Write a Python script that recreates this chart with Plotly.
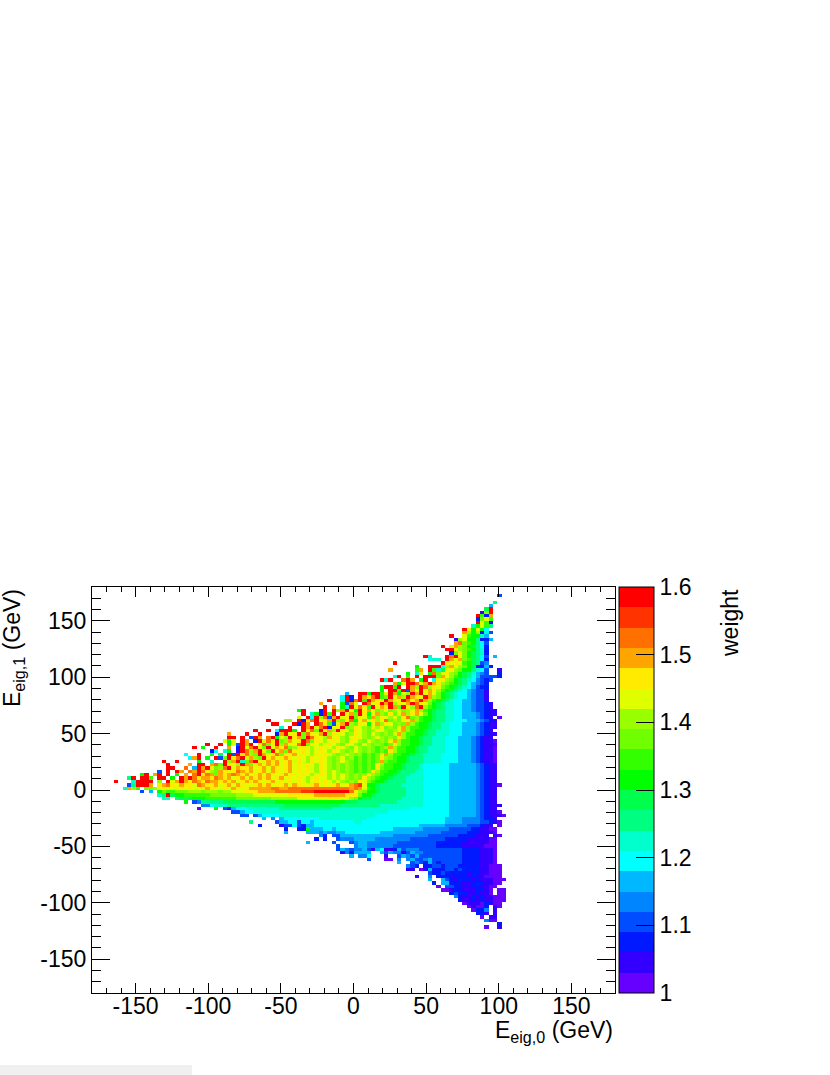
import plotly.graph_objects as go

# ROOT rainbow palette, one colour per contour level (bottom to top of the scale)
LEVEL_COLORS = [
    "#6600FF", "#3300FF", "#0019FF", "#004CFF", "#0085FF",
    "#00B8FF", "#00FFFF", "#00FFCC", "#00FF80", "#00FF4C",
    "#00FF00", "#33FF00", "#70FF00", "#99FF00", "#DFFF00",
    "#FFEB00", "#FFA500", "#FF7000", "#FF3300", "#FF0000",
]
LEVEL_CODES = "0123456789abcdefghij"

BIN_EDGE = -180
BIN_WIDTH = 3
N_BINS = 120
FIRST_ROW = 2  # rows count down from the top of the y axis

# (last filled x bin, contour level of each bin read leftwards from it), "." = empty
ROWS = [
    (93, "3"), (0, ""), (92, "8"), (91, "5"), (91, "9j"), (91, "1dj"), (91, "jb2g"),
    (91, "2ceb"), (91, "jeb1"), (91, "7aeb8"), (90, "jeaea6"), (91, "gdad273"),
    (90, "j..ebaa75"), (91, "1deaa8225"), (90, "ghcba863"), (90, "j.egdca9862"),
    (90, "jjfdcba872"), (90, "2cfca9872"), (92, "j7...jhjeca9863.5"), (90, "677.jgegcb9862"),
    (90, "j..........jfefeba9834"), (91, "a..jjj6dgedca92252"),
    (93, "g.....bg.jb79efdcaa8763..1"), (93, "a.7f.ahcefdca987543..2"),
    (93, "7j.b.j.jjjcgedba986533332"), (91, "j7j..hjg.aj.6efdca98764323"),
    (90, "gaejjhegjgfdcba9865432"), (90, "ajjbj.jgdjhdfecba98765322"),
    (90, "a.jjbj3gejegfdba987654331"),
    (90, "5..jjajjbejgaedjgjegeca9876654331"),
    (90, "6j2.jgfhjbcjegdjgfejgdca9876654331"),
    (90, "j..6j2hjbjgfejgfejhegjgdba98766554331"),
    (91, "g....a3he.jhefjgjdfegjhfeca9877665543321"),
    (91, "j.g.a7jehfbjegfjgcjfdhjdba9877665543321"),
    (92, "aj...2j.jdgjeajfgecdecdecdeg" "dba988776655433211"),
    (92, "j.7a2jbj.jegcjfaegdcfcegdfg" "eca988776655543211"),
    (93, "e.j6jdh3gjefjcfebgdfedecfh" "cdbaa98877665554321.0"),
    (92, "j...dd.j2fhjefgjdcfhaegefdehcdcfeg" "dbaa988776665554321"),
    (92, "jj...j2jg.jhfb3egjdcfeaegdfecdcg" "dbaa9887766655543211"),
    (92, "7.j..jgjehj2efjcd" "fedcedfcdceg" "dbbaa9887766655543211"),
    (91, "j..j.6jjja.jfhcjegdjf" "ecfedcdfedcdeg" "dbaa9887776665554321"),
    (92, "g...j..j...2gjefjchfegjd" "feecdfedcedcdceg" "dbbaa98877766655543211"),
    (91, "jj.j.3jg.hjaedjfgcjhfedg" "efdcefedcdedcdcf" "dbaa98877766655543211"),
    (92, "eae.jg.2jehfjcdgefjhcfe" "defedcfedcedcdceg" "dbbaa988777666555432110"),
    (92, "j..j.ae3jgj.ehcfjdgefhjc" "fedefedcfedcedcdcbcf" "dbbaa988777666555432111"),
    (92, "j.a..j..g.2jehjfcjegfhcd" "ffedefeedfedcedcdcbcdg" "dbbaa9887777666555432110"),
    (92, "26.7a.1jhdgjfcjegch" "fefedefedfedcdedcdcbcbf" "dbbaa9887777666555432110"),
    (92, "6..j..a.9.j3jfhdcjgefhc" "ffgefedfefedcdedcdbcbceg" "dbbaa98877776666555432110"),
    (92, "6gj.a.j3cjfhjegdcjf" "gefgfefedfefedcdecdbcbcbcf" "dcbaa988877776666555432110"),
    (92, "j..j....a..7..jdgj7chjfeg" "fgefgefedfefedcdedcbcbcbcg" "cbbaa988877776666555432110"),
    (92, "j....g.jj.ghcjfedjgc" "fgegfgefgefefedfedcdcdcbcbcbf" "dbbaa98887" "66666655555543211"),
    (92, "jj..h.5jgjfcdhjeg" "ffgefgegfefgefefedfedcdcdcbcbcbf" "cbbaa98887" "66666655555543211"),
    (92, "3.j.jg.hgjhfdcg" "fefhgfgefgegfefgefefedfededcdcbcbcf" "dbbaa988877" "66666655555543211"),
    (92, "aj.gj.j.a.g.hjfhgc" "gfghgfgefgegfefgefefedefedededcdcdf" "dcbaa9888777" "66666655555543211"),
    (92, "8j.jjb.jj.a.jgjhf" "ggfhgfgefgegfgfgefgefefedefeedededcdcf" "dcbaa98887777" "66666655555543211"),
    (92, "j...7jjjj.d.jegjg" "fhgfhggfgfgefgfgfefgefefefedefefededcdcf" "ecbaa988887777" "66666655555543211"),
    (93, "38jjjg.fghfegffehgffgefgegfeefgfgeffgegffefgefefgefgh" "ieaa98888877777" "66666655555543211" "0"),
    (92, "7gdb.ccdefeeffefeefgffefegfefggggghhgghhhhhhhhhhhhhhgh" "geba98888887777" "66666655555543211"),
    (92, "3.5.acbbcccdddcdddcddeeefffgggghhhhhhiiijjjjjjjjhf" "dcaa98888887777" "66666655555543211"),
    (92, "78j9aabbbbbbccccccddddeeeeeeeeffffffgggggggfff" "caa988888887777" "66666655555543211"),
    (92, "77.8999aaabbbbbbbccccccccddddddeeeeeeefffeedc" "a99888888877777" "66666655555543211"),
    (92, "a.3488888999999999999aaaaaaaaaaaaaaaa999" "888888888777777" "66666655555543211"),
    (93, "4467778888888888888" "9999999999999" "8888" "888887777777777" "66666655555543211" "1"),
    (92, "0...a.325666" "7777777" "888888888888" "777777" "777777777777666" "66666655555543211"),
    (93, "33566" "777777777777777777777777" "777777766666666" "66666655555543211" "0"),
    (94, "33.3" "56666" "777777777777777777" "777766666666666" "66666655555543211" "10"),
    (92, "5.4.5" "66666666" "777777777" "776666666666666" "66666" "5555" "4444" "3221"),
    (93, "8.....3556636656666666667" "766666666666666" "666665555444433210"),
    (93, "2....13363255" "6666666666" "66666666666666" "555555" "44444" "333" "211.0"),
    (92, "2..22a55566566666" "66666666" "5555555" "444444" "33333" "22" "11" "00"),
    (92, "5....555454455666" "66666" "55555555" "444444" "333333" "222" "11" "10"),
    (93, "42.335555" "55555555" "44444444" "3333333" "2222" "111" ".10"),
    (92, "2.2..34445" "5555" "44444444" "33333333" "22222" "1111" "100"),
    (92, "5.....3...34" "55" "4444444" "333333333" "222222" "11111" "100"),
    (92, "3...4" "55" "444444" "3333333333" "222222" "1111" "1000"),
    (92, "35434" "45315611253444" "3333333333" "2222" "1110"),
    (92, "1425" "555..53544135" "44333333" "3332222" "1110"),
    (92, "5.446...1..354353" "333333" "3332222" "1110"),
    (92, "3...00.4.453345" "3333" "3332222" "1110"),
    (92, "5..3432532" "33" "3332222" "1110"),
    (93, "432.223323" "3322222" "11000"),
    (93, "11.0152223" "3232" "2" "22" "11000"),
    (93, "32232222212211000"),
    (93, "1..4.222122212110000"),
    (94, "5..532122212111000"),
    (93, "2.55222112221100"),
    (92, "0.332211221100"),
    (94, "001221112210.00"),
    (94, "2322112110.00"),
    (94, "421121211000"),
    (94, "21121211000"),
    (93, "011102100"),
    (93, "01002.10"),
    (92, "0224.1"),
    (92, "221.1"),
    (92, "0.11"),
    (92, "400"),
    (93, "2"),
    (93, "0..1"),
]

TICK_VALUES = [-150, -100, -50, 0, 50, 100, 150]
TICK_LABELS = ["-150", "-100", "-50", "0", "50", "100", "150"]
SCALE_VALUES = [1.0, 1.1, 1.2, 1.3, 1.4, 1.5, 1.6]
SCALE_LABELS = ["1", "1.1", "1.2", "1.3", "1.4", "1.5", "1.6"]

WIDTH, HEIGHT = 830, 1075
LEFT, RIGHT, TOP, BOTTOM = 92, 615, 587, 993
PLOT_W, PLOT_H = RIGHT - LEFT, BOTTOM - TOP

FONT = "Liberation Sans, Arial, sans-serif"
TEXT_SIZE = 23


def level_weight(code):
    # centre of the contour band
    return 1.0 + 0.03 * (LEVEL_CODES.index(code) + 0.5)


z = [[None] * N_BINS for _ in range(N_BINS)]
for i, (last, codes) in enumerate(ROWS):
    row = N_BINS - 1 - (FIRST_ROW + i)
    for k, code in enumerate(codes):
        if code != ".":
            z[row][last - len(codes) + 1 + k] = level_weight(code)

centers = [BIN_EDGE + BIN_WIDTH * (i + 0.5) for i in range(N_BINS)]

colorscale = []
for i, color in enumerate(LEVEL_COLORS):
    colorscale.append([i / 20, color])
    colorscale.append([(i + 1) / 20, color])

fig = go.Figure(
    go.Heatmap(
        x=centers,
        y=centers,
        z=z,
        zmin=1.0,
        zmax=1.6,
        colorscale=colorscale,
        hoverongaps=False,
        colorbar=dict(
            x=(619 - LEFT) / PLOT_W,
            xanchor="left",
            xpad=0,
            y=0,
            yanchor="bottom",
            ypad=0,
            len=1,
            thickness=35,
            outlinecolor="black",
            outlinewidth=1,
            tickmode="array",
            tickvals=SCALE_VALUES,
            ticktext=SCALE_LABELS,
            ticks="inside",
            ticklen=18,
            tickcolor="black",
            tickfont=dict(family=FONT, size=TEXT_SIZE, color="black"),
        ),
    )
)


def axis_style(major_len, minor_len):
    return dict(
        range=[-180, 180],
        tickmode="array",
        tickvals=TICK_VALUES,
        ticktext=TICK_LABELS,
        ticks="inside",
        ticklen=major_len,
        tickcolor="black",
        minor=dict(dtick=10, tick0=0, ticks="inside", ticklen=minor_len, tickcolor="black"),
        showgrid=False,
        zeroline=False,
        showline=True,
        linecolor="black",
        linewidth=1,
        mirror="ticks",
        tickfont=dict(family=FONT, size=TEXT_SIZE, color="black"),
    )


fig.update_layout(
    width=WIDTH,
    height=HEIGHT,
    margin=dict(l=LEFT, r=WIDTH - RIGHT, t=TOP, b=HEIGHT - BOTTOM),
    paper_bgcolor="white",
    plot_bgcolor="white",
    font=dict(family=FONT, color="black"),
    xaxis=dict(axis_style(10, 5), ticklabelstandoff=-8),
    yaxis=axis_style(18, 9),
    annotations=[
        dict(
            text="E<sub>eig,0</sub> (GeV)",
            xref="paper", yref="paper", x=1, y=(BOTTOM - 1031) / PLOT_H,
            xanchor="right", yanchor="middle", showarrow=False,
            font=dict(family=FONT, size=TEXT_SIZE, color="black"),
        ),
        dict(
            text="E<sub>eig,1</sub> (GeV)",
            xref="paper", yref="paper", x=(13 - LEFT) / PLOT_W, y=1,
            xanchor="center", yanchor="top", showarrow=False, textangle=-90,
            font=dict(family=FONT, size=TEXT_SIZE, color="black"),
        ),
        dict(
            text="weight",
            xref="paper", yref="paper", x=(730 - LEFT) / PLOT_W, y=1,
            xanchor="center", yanchor="top", showarrow=False, textangle=-90,
            font=dict(family=FONT, size=TEXT_SIZE, color="black"),
        ),
    ],
    shapes=[
        # pale strip along the bottom edge of the page
        dict(
            type="rect", xref="paper", yref="paper",
            x0=-LEFT / PLOT_W, x1=(192 - LEFT) / PLOT_W,
            y0=(BOTTOM - 1075) / PLOT_H, y1=(BOTTOM - 1065) / PLOT_H,
            fillcolor="#f0f0f0", line_width=0,
        ),
    ],
)

# figure fills the window, so drop the page's default body margin
fig.write_html(
    "out.html",
    config={"displayModeBar": False},
    post_script="document.body.style.margin = '0';",
)
